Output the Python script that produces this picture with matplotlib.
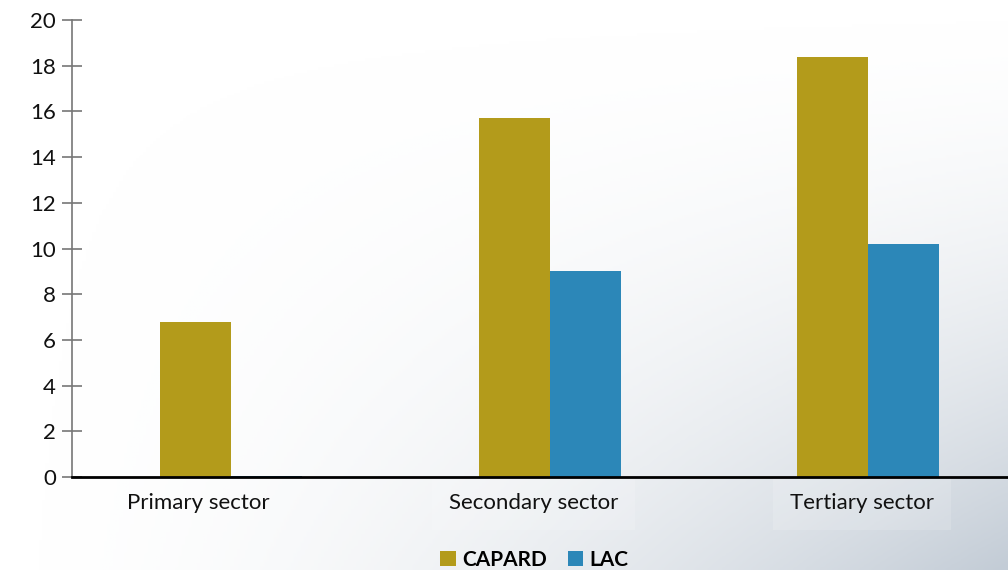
import numpy as np
import matplotlib.pyplot as plt
from matplotlib.colors import LinearSegmentedColormap

plt.rcParams['font.family'] = ['Lato', 'DejaVu Sans']

# sectors and shares for each region
sectors = ['Primary sector', 'Secondary sector', 'Tertiary sector']
capard = [6.8, 15.7, 18.4]
lac = [0.05, 9.0, 10.2]
label_shift = [-0.104, -0.05, -0.02]

gold = '#b39b1b'
blue = '#2c87b8'

fig = plt.figure(figsize=(10.08, 5.7), dpi=100)

# soft backdrop getting greyer towards the lower right
bg = fig.add_axes([0, 0, 1, 1], zorder=-10)
u, v = np.meshgrid(np.linspace(0, 1, 300), np.linspace(0, 1, 200))
t = (u * v) ** 1.7
cmap = LinearSegmentedColormap.from_list('bg', ['#ffffff', '#c3ccd6'])
bg.imshow(t, cmap=cmap, aspect='auto', extent=[0, 1, 0, 1], origin='upper', vmin=0, vmax=1)
bg.axis('off')

ax = fig.add_axes([0.0714, 0.163, 0.948, 0.802])
ax.patch.set_alpha(0)

x = np.arange(len(sectors))
w = 0.223
ax.bar(x - w / 2, capard, w, color=gold, label='CAPARD', zorder=2)
ax.bar(x + w / 2, lac, w, color=blue, label='LAC', zorder=2)

ax.set_xlim(-0.5, 2.5)
ax.set_ylim(0, 20)
ax.set_yticks(range(0, 21, 2))
ax.set_xticks([])
ax.tick_params(axis='y', direction='inout', length=15, width=1.2, color='#777777',
               labelsize=16, pad=4, labelcolor='#111111')
for s in ['top', 'right']:
    ax.spines[s].set_visible(False)
ax.spines['left'].set_color('#777777')
ax.spines['left'].set_linewidth(1.2)
ax.spines['bottom'].set_color('black')
ax.spines['bottom'].set_linewidth(2)
ax.spines['bottom'].set_zorder(3)

for i, name in enumerate(sectors):
    ax.text(i + label_shift[i], -1.15, name, ha='center', va='center', fontsize=16,
            color='#111111', zorder=1,
            bbox=dict(facecolor='white', alpha=0.15, edgecolor='none', pad=12))

fig.legend(loc='center', bbox_to_anchor=(0.53, 0.018), ncol=2, frameon=False,
           prop={'weight': 'bold', 'size': 15}, handlelength=0.75, handleheight=0.8,
           handletextpad=0.3, columnspacing=1.0)

fig.savefig('out.png', dpi=100)
